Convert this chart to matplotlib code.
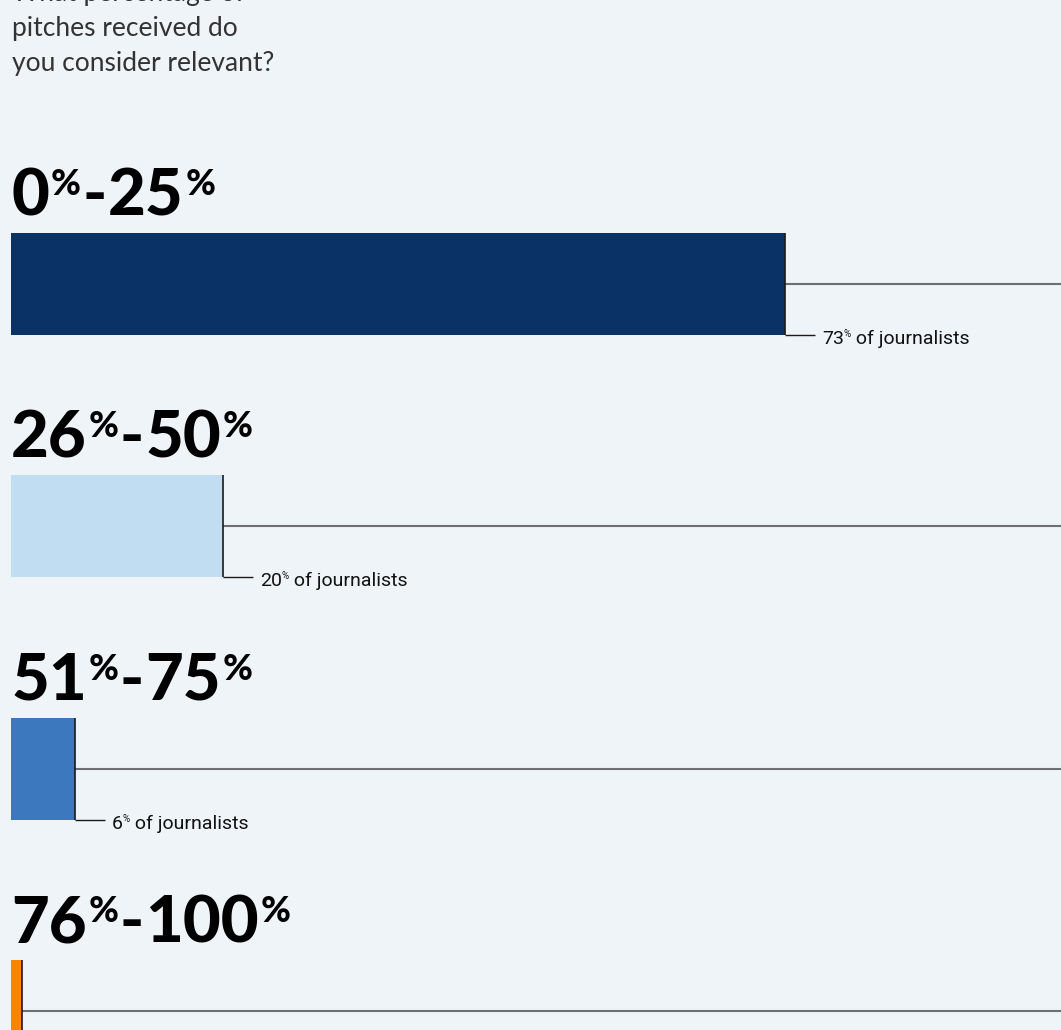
import matplotlib
matplotlib.use("Agg")
import matplotlib.pyplot as plt
from matplotlib import transforms as mtransforms
from matplotlib import font_manager as fm

# ---- data ----
categories_lo = ["0", "26", "51", "76"]
categories_hi = ["25", "50", "75", "100"]
shares = [73, 20, 6, 1]
share_labels = ["73", "20", "6", None]
colors = ["#0a3266", "#c1ddf2", "#3b78bd", "#ff8200"]
question = ["What percentage of", "pitches received do", "you consider relevant?"]

BG = "#eff4f8"
W, H, DPI = 1061, 1030, 100

fig = plt.figure(figsize=(W / DPI, H / DPI), dpi=DPI, facecolor=BG)
ax = fig.add_axes([0, 0, 1, 1])
ax.set_facecolor(BG)
ax.axis("off")

px_per_pct = 10.6
x_left = 11
ax.set_xlim(-x_left / px_per_pct, (W - x_left) / px_per_pct)
spacing = 242.4
center0 = 284
ax.set_ylim((H - center0) / spacing, -center0 / spacing)
bar_h = 102 / spacing

avail = [f.name for f in fm.fontManager.ttflist]
narrow = "Liberation Sans Narrow" if "Liberation Sans Narrow" in avail else "Roboto"

renderer = fig.canvas.get_renderer()


def draw_pieces(x, y, pieces, **common):
    """pieces: list of (text, size, raise_px, gap_px, kwargs); placed sequentially."""
    cur_dx = 0.0
    for txt, size, raise_px, gap, kw in pieces:
        cur_dx += gap
        tr = mtransforms.offset_copy(ax.transData, fig=fig, x=cur_dx * 72 / DPI,
                                     y=raise_px * 72 / DPI, units="points")
        t = ax.text(x, y, txt, fontsize=size, va="baseline", ha="left",
                    transform=tr, **common, **kw)
        ext = t.get_window_extent(renderer)
        cur_dx += ext.width
    return cur_dx


# question text
for i, line in enumerate(question):
    fig.text(12 / W, 1 - (1 + 35 * i) / H, line, fontsize=19, family="Lato",
             fontweight="normal", color="#333333", va="baseline", ha="left")

for i, (lo, hi, v, lab, c) in enumerate(zip(categories_lo, categories_hi, shares,
                                            share_labels, colors)):
    ax.barh(i, v, height=bar_h, left=0, color=c, edgecolor="none", zorder=2)
    top = i - bar_h / 2
    bot = i + bar_h / 2
    # vertical edge line
    ax.plot([v, v], [top, bot], color="#1a1a1a", lw=1.2, zorder=3,
            solid_capstyle="butt")
    # mid connector to right edge
    ax.plot([v, ax.get_xlim()[1]], [i, i], color="#6d6f72", lw=1.5, zorder=1,
            solid_capstyle="butt")
    if lab is not None:
        ax.plot([v, v + 30 / px_per_pct], [bot, bot], color="#1a1a1a", lw=1.0,
                zorder=3, solid_capstyle="butt")
        draw_pieces(v + 37 / px_per_pct, bot + 9 / spacing, [
            (lab, 14, 0, 0, {}),
            ("%", 7, 7, 0, {}),
            (" of journalists", 14, 0, 0, {}),
        ], family=narrow, color="#111111")
    # heading
    hk = dict(fontweight="black")
    draw_pieces(0.2 / px_per_pct, top - 18 / spacing, [
        (lo, 47, 0, 0, hk),
        ("%", 26, 20, 2, hk),
        ("-", 47, 0, 1, hk),
        (hi, 47, 0, 1, hk),
        ("%", 26, 20, 2, hk),
    ], family="Lato", color="#000000")

fig.savefig("out.png", dpi=DPI, facecolor=BG)
